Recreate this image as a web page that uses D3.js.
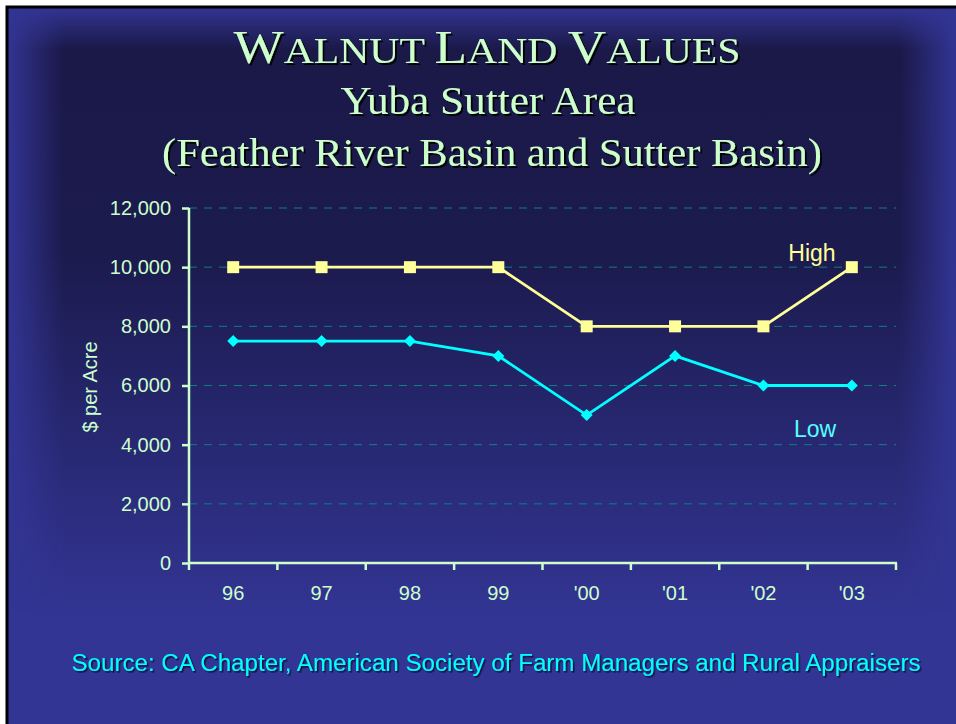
<!DOCTYPE html>
<html>
<head>
<meta charset="utf-8">
<script src="https://cdn.jsdelivr.net/npm/d3@7"></script>
<style>
  body { margin: 0; background: #ffffff; overflow: hidden; }
  svg { display: block; }
</style>
</head>
<body>
<svg id="chart" width="956" height="724"></svg>
<script>
// Data
var years = ['96', '97', '98', '99', "'00", "'01", "'02", "'03"];
var high = [10000, 10000, 10000, 10000, 8000, 8000, 8000, 10000];
var low = [7500, 7500, 7500, 7000, 5000, 7000, 6000, 6000];
var yTicks = [0, 2000, 4000, 6000, 8000, 10000, 12000];

var svg = d3.select('#chart');
var W = 956, H = 724;
var defs = svg.append('defs');

function gradient(id, x1, y1, x2, y2, stops) {
  var g = defs.append('linearGradient').attr('id', id)
    .attr('gradientUnits', 'userSpaceOnUse')
    .attr('x1', x1).attr('y1', y1).attr('x2', x2).attr('y2', y2);
  stops.forEach(function (s) {
    g.append('stop').attr('offset', s[0]).attr('stop-color', s[1]).attr('stop-opacity', s[2]);
  });
}

// Background: dark centre fading to lighter edges and bottom
gradient('fade', 0, 7, 0, 724, [[0, '#1a1846', 1], [0.35, '#1c1b4e', 1], [0.85, '#1c1b4e', 0]]);
gradient('hmask', 7, 0, 956, 0, [[0, '#fff', 0], [0.06, '#fff', 1], [0.94, '#fff', 1], [1, '#fff', 0]]);
gradient('vmask', 0, 7, 0, 724, [[0, '#fff', 0], [0.06, '#fff', 1], [1, '#fff', 1]]);

defs.append('mask').attr('id', 'mh').attr('maskUnits', 'userSpaceOnUse')
  .attr('x', 0).attr('y', 0).attr('width', W).attr('height', H)
  .append('rect').attr('width', W).attr('height', H).attr('fill', 'url(#hmask)');
defs.append('mask').attr('id', 'mv').attr('maskUnits', 'userSpaceOnUse')
  .attr('x', 0).attr('y', 0).attr('width', W).attr('height', H)
  .append('rect').attr('width', W).attr('height', H).attr('fill', 'url(#vmask)');

var shadow = defs.append('filter').attr('id', 'shadow');
shadow.append('feDropShadow')
  .attr('dx', 2).attr('dy', 2).attr('stdDeviation', 0)
  .attr('flood-color', '#000000').attr('flood-opacity', 0.9);

var shadowSm = defs.append('filter').attr('id', 'shadowSm');
shadowSm.append('feDropShadow')
  .attr('dx', 1.5).attr('dy', 1.5).attr('stdDeviation', 0)
  .attr('flood-color', '#0a0a30').attr('flood-opacity', 0.9);

svg.append('rect')
  .attr('x', 7).attr('y', 7).attr('width', W).attr('height', H)
  .attr('fill', '#333594').attr('stroke', '#000000').attr('stroke-width', 3);

svg.append('g').attr('mask', 'url(#mh)')
  .append('g').attr('mask', 'url(#mv)')
  .append('rect')
  .attr('x', 8).attr('y', 8).attr('width', W).attr('height', H)
  .attr('fill', 'url(#fade)');

// Title
var serif = 'Liberation Serif, Times New Roman, serif';
var title = svg.append('text')
  .attr('x', 487).attr('y', 63)
  .attr('text-anchor', 'middle')
  .attr('font-family', serif)
  .attr('fill', '#ccffcc')
  .attr('filter', 'url(#shadow)')
  .attr('textLength', 507).attr('lengthAdjust', 'spacingAndGlyphs');
[['W', 46], ['ALNUT ', 36], ['L', 46], ['AND ', 36], ['V', 46], ['ALUES', 36]].forEach(function (p) {
  title.append('tspan').attr('font-size', p[1]).text(p[0]);
});

svg.append('text')
  .attr('x', 488).attr('y', 114)
  .attr('text-anchor', 'middle')
  .attr('font-family', serif)
  .attr('font-size', 41)
  .attr('fill', '#ccffcc')
  .attr('filter', 'url(#shadow)')
  .attr('textLength', 295).attr('lengthAdjust', 'spacingAndGlyphs')
  .text('Yuba Sutter Area');

svg.append('text')
  .attr('x', 492).attr('y', 166)
  .attr('text-anchor', 'middle')
  .attr('font-family', serif)
  .attr('font-size', 41)
  .attr('fill', '#ccffcc')
  .attr('filter', 'url(#shadow)')
  .attr('textLength', 660).attr('lengthAdjust', 'spacingAndGlyphs')
  .text('(Feather River Basin and Sutter Basin)');

// Scales
var x = d3.scaleBand().domain(years).range([189, 896]);
var y = d3.scaleLinear().domain([0, 12000]).range([563, 208]);
var axisColor = '#ccffcc';
var font = 'Liberation Sans, Arial, sans-serif';

// Grid
svg.append('g').selectAll('line')
  .data(yTicks.filter(function (d) { return d > 0; }))
  .join('line')
  .attr('x1', 189).attr('x2', 896)
  .attr('y1', function (d) { return y(d); })
  .attr('y2', function (d) { return y(d); })
  .attr('stroke', '#0f7f86')
  .attr('stroke-width', 1)
  .attr('stroke-dasharray', '8,7');

// Y axis
var yAxis = svg.append('g')
  .attr('transform', 'translate(189,0)')
  .call(d3.axisLeft(y).tickValues(yTicks).tickSize(7).tickPadding(11)
    .tickFormat(d3.format(',')));
yAxis.select('.domain').attr('stroke', axisColor).attr('stroke-width', 2.5)
  .attr('d', 'M0,208V564');
yAxis.selectAll('.tick line').attr('stroke', axisColor).attr('stroke-width', 2.5);
yAxis.selectAll('.tick text')
  .attr('fill', axisColor).attr('font-family', font).attr('font-size', 20);

// X axis
var xAxis = svg.append('g')
  .attr('transform', 'translate(0,563)')
  .call(d3.axisBottom(x).tickSize(0).tickPadding(23));
xAxis.select('.domain').attr('stroke', axisColor).attr('stroke-width', 2.5)
  .attr('d', 'M188,0H897');
xAxis.selectAll('.tick text')
  .attr('fill', axisColor).attr('font-family', font).attr('font-size', 20);
xAxis.append('g').selectAll('line')
  .data(years.map(function (d) { return x(d); }).concat([x.range()[1]]))
  .join('line')
  .attr('x1', function (d) { return d; }).attr('x2', function (d) { return d; })
  .attr('y1', 0).attr('y2', 7)
  .attr('stroke', axisColor).attr('stroke-width', 2.5);

// Y axis title
svg.append('text')
  .attr('transform', 'translate(97,387) rotate(-90)')
  .attr('text-anchor', 'middle')
  .attr('font-family', font)
  .attr('font-size', 20)
  .attr('fill', axisColor)
  .text('$ per Acre');

// Lines
var cx = function (d, i) { return x(years[i]) + x.bandwidth() / 2; };
var line = d3.line().x(cx).y(function (d) { return y(d); });

svg.append('path').datum(high)
  .attr('d', line).attr('fill', 'none')
  .attr('stroke', '#ffff99').attr('stroke-width', 2.8);
svg.append('path').datum(low)
  .attr('d', line).attr('fill', 'none')
  .attr('stroke', '#00ffff').attr('stroke-width', 2.8);

svg.append('g').selectAll('path')
  .data(high).join('path')
  .attr('transform', function (d, i) { return 'translate(' + cx(d, i) + ',' + y(d) + ')'; })
  .attr('d', d3.symbol(d3.symbolSquare, 144))
  .attr('fill', '#ffff99');

svg.append('g').selectAll('path')
  .data(low).join('path')
  .attr('transform', function (d, i) { return 'translate(' + cx(d, i) + ',' + y(d) + ') rotate(45)'; })
  .attr('d', d3.symbol(d3.symbolSquare, 72))
  .attr('fill', '#00ffff');

// Series labels
svg.append('text')
  .attr('x', 812).attr('y', 261)
  .attr('text-anchor', 'middle')
  .attr('font-family', font).attr('font-size', 23)
  .attr('fill', '#ffff99')
  .text('High');
svg.append('text')
  .attr('x', 815).attr('y', 437)
  .attr('text-anchor', 'middle')
  .attr('font-family', font).attr('font-size', 23)
  .attr('fill', '#55ffff')
  .text('Low');

// Source
svg.append('text')
  .attr('x', 496).attr('y', 671)
  .attr('text-anchor', 'middle')
  .attr('font-family', font).attr('font-size', 23)
  .attr('fill', '#00ffff')
  .attr('filter', 'url(#shadowSm)')
  .attr('textLength', 849).attr('lengthAdjust', 'spacingAndGlyphs')
  .text('Source: CA Chapter, American Society of Farm Managers and Rural Appraisers');
</script>
</body>
</html>
